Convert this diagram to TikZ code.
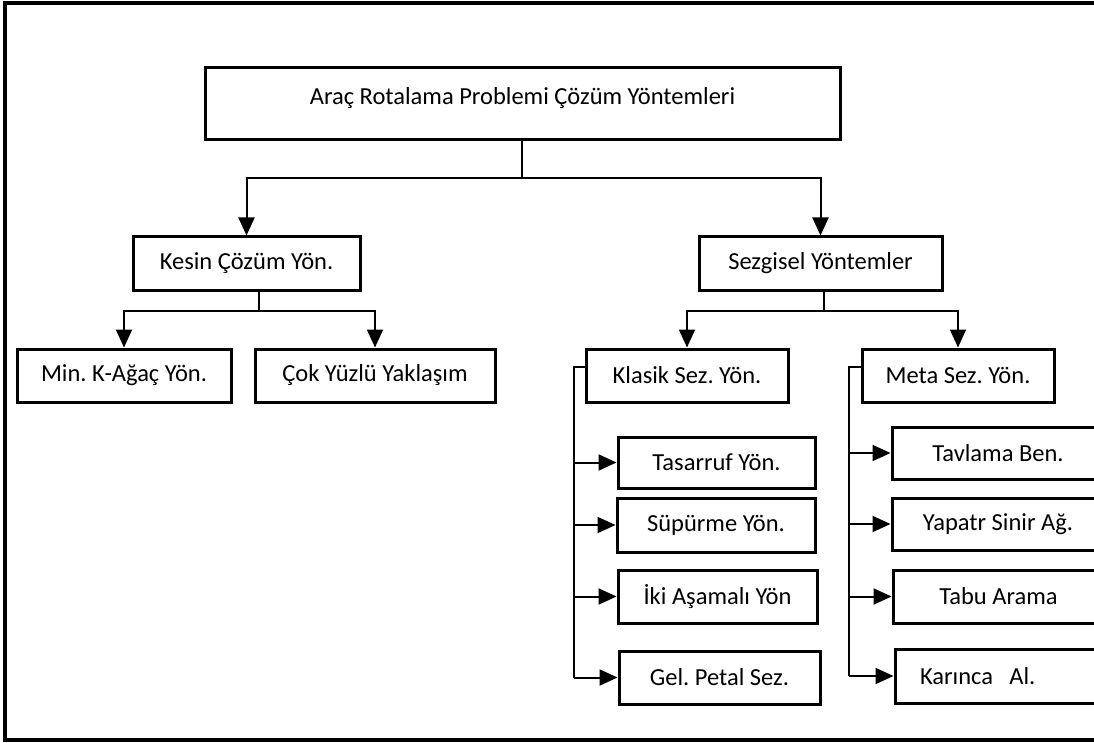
\documentclass[tikz,border=0pt]{standalone}
\usepackage{fontspec}
\setmainfont{Carlito}
\usepackage{tikz}
\usetikzlibrary{arrows.meta}
\frenchspacing

\begin{document}
\begin{tikzpicture}[x=1pt, y=-1pt, line width=2pt,
    box/.style={draw, line width=3pt, inner sep=0pt, minimum height=53pt,
                font=\fontsize{24.5}{29}\selectfont},
    link/.style={-{Triangle[length=18pt, width=16pt]}}]

% page frame, open on the right
\useasboundingbox (0,0) rectangle (1094,743);
\clip (0,0) rectangle (1094,743);
\fill[white] (0,0) rectangle (1094,743);
\draw[line width=4pt] (1110,3) -- (5,3) -- (5,740) -- (1110,740);

% draw boxes
\node[box, minimum width=635pt, minimum height=72pt, text depth=17pt] (top) at (522.5,104) {Araç Rotalama Problemi Çözüm Yöntemleri};

\node[box, minimum width=227pt] (kesin) at (246.5,263.5) {Kesin Çözüm Yön.};
\node[box, minimum width=243pt] (sezgi) at (820.5,263.5) {Sezgisel Yöntemler};

\node[box, minimum width=214pt] (mink) at (124,375.5) {Min. K-Ağaç Yön.};
\node[box, minimum width=240pt] (cokyuz) at (375,375.5) {Çok Yüzlü Yaklaşım};
\node[box, minimum width=202pt] (klasik) at (687,375.5) {Klasik Sez. Yön.};
\node[box, minimum width=192pt] (meta) at (958,375.5) {Meta Sez. Yön.};

\node[box, minimum width=197pt, minimum height=51pt] (tasarruf) at (716.5,462.5) {Tasarruf Yön.};
\node[box, minimum width=198pt, minimum height=54pt] (supurme) at (716,525) {Süpürme Yön.};
\node[box, minimum width=199pt] (ikiasama) at (717.5,596.5) {İki Aşamalı Yön};
\node[box, minimum width=201pt] (petal) at (719.5,677.5) {Gel. Petal Sez.};

\node[box, minimum width=212pt, minimum height=52pt] (tavlama) at (998,453) {Tavlama Ben.};
\node[box, minimum width=212pt, minimum height=52pt] (yapay) at (998,524) {Yapatr Sinir Ağ.};
\node[box, minimum width=211pt] (tabu) at (998.5,596.5) {Tabu Arama};
\node[box, inner xsep=25pt, text width=159pt, align=left, minimum height=54pt] (karinca) at (999.5,676) {Karınca\ \ Al.};

% draw connectors
\coordinate (tj) at (522,178);
\draw (top.south -| tj) -- (tj);
\draw[link] (tj) -| (kesin.north);
\draw[link] (tj) -| (sezgi.north);

\coordinate (kj) at (259,311);
\draw (kesin.south -| kj) -- (kj);
\draw[link] (kj) -| (mink.north);
\draw[link] (kj) -| (cokyuz.north);

\coordinate (sj) at (824,311);
\draw (sezgi.south -| sj) -- (sj);
\draw[link] (sj) -| (klasik.north);
\draw[link] (sj) -| (meta.north);

% side brackets
\coordinate (kb) at (574,367);
\draw (klasik.west |- kb) -- (kb) -- (kb |- petal.west);
\foreach \n in {tasarruf, supurme, ikiasama, petal}
  \draw[link] (kb |- \n.west) -- (\n.west);

\coordinate (mb) at (849,367);
\draw (meta.west |- mb) -- (mb) -- (mb |- karinca.west);
\foreach \n in {tavlama, yapay, tabu, karinca}
  \draw[link] (mb |- \n.west) -- (\n.west);

\end{tikzpicture}
\end{document}
